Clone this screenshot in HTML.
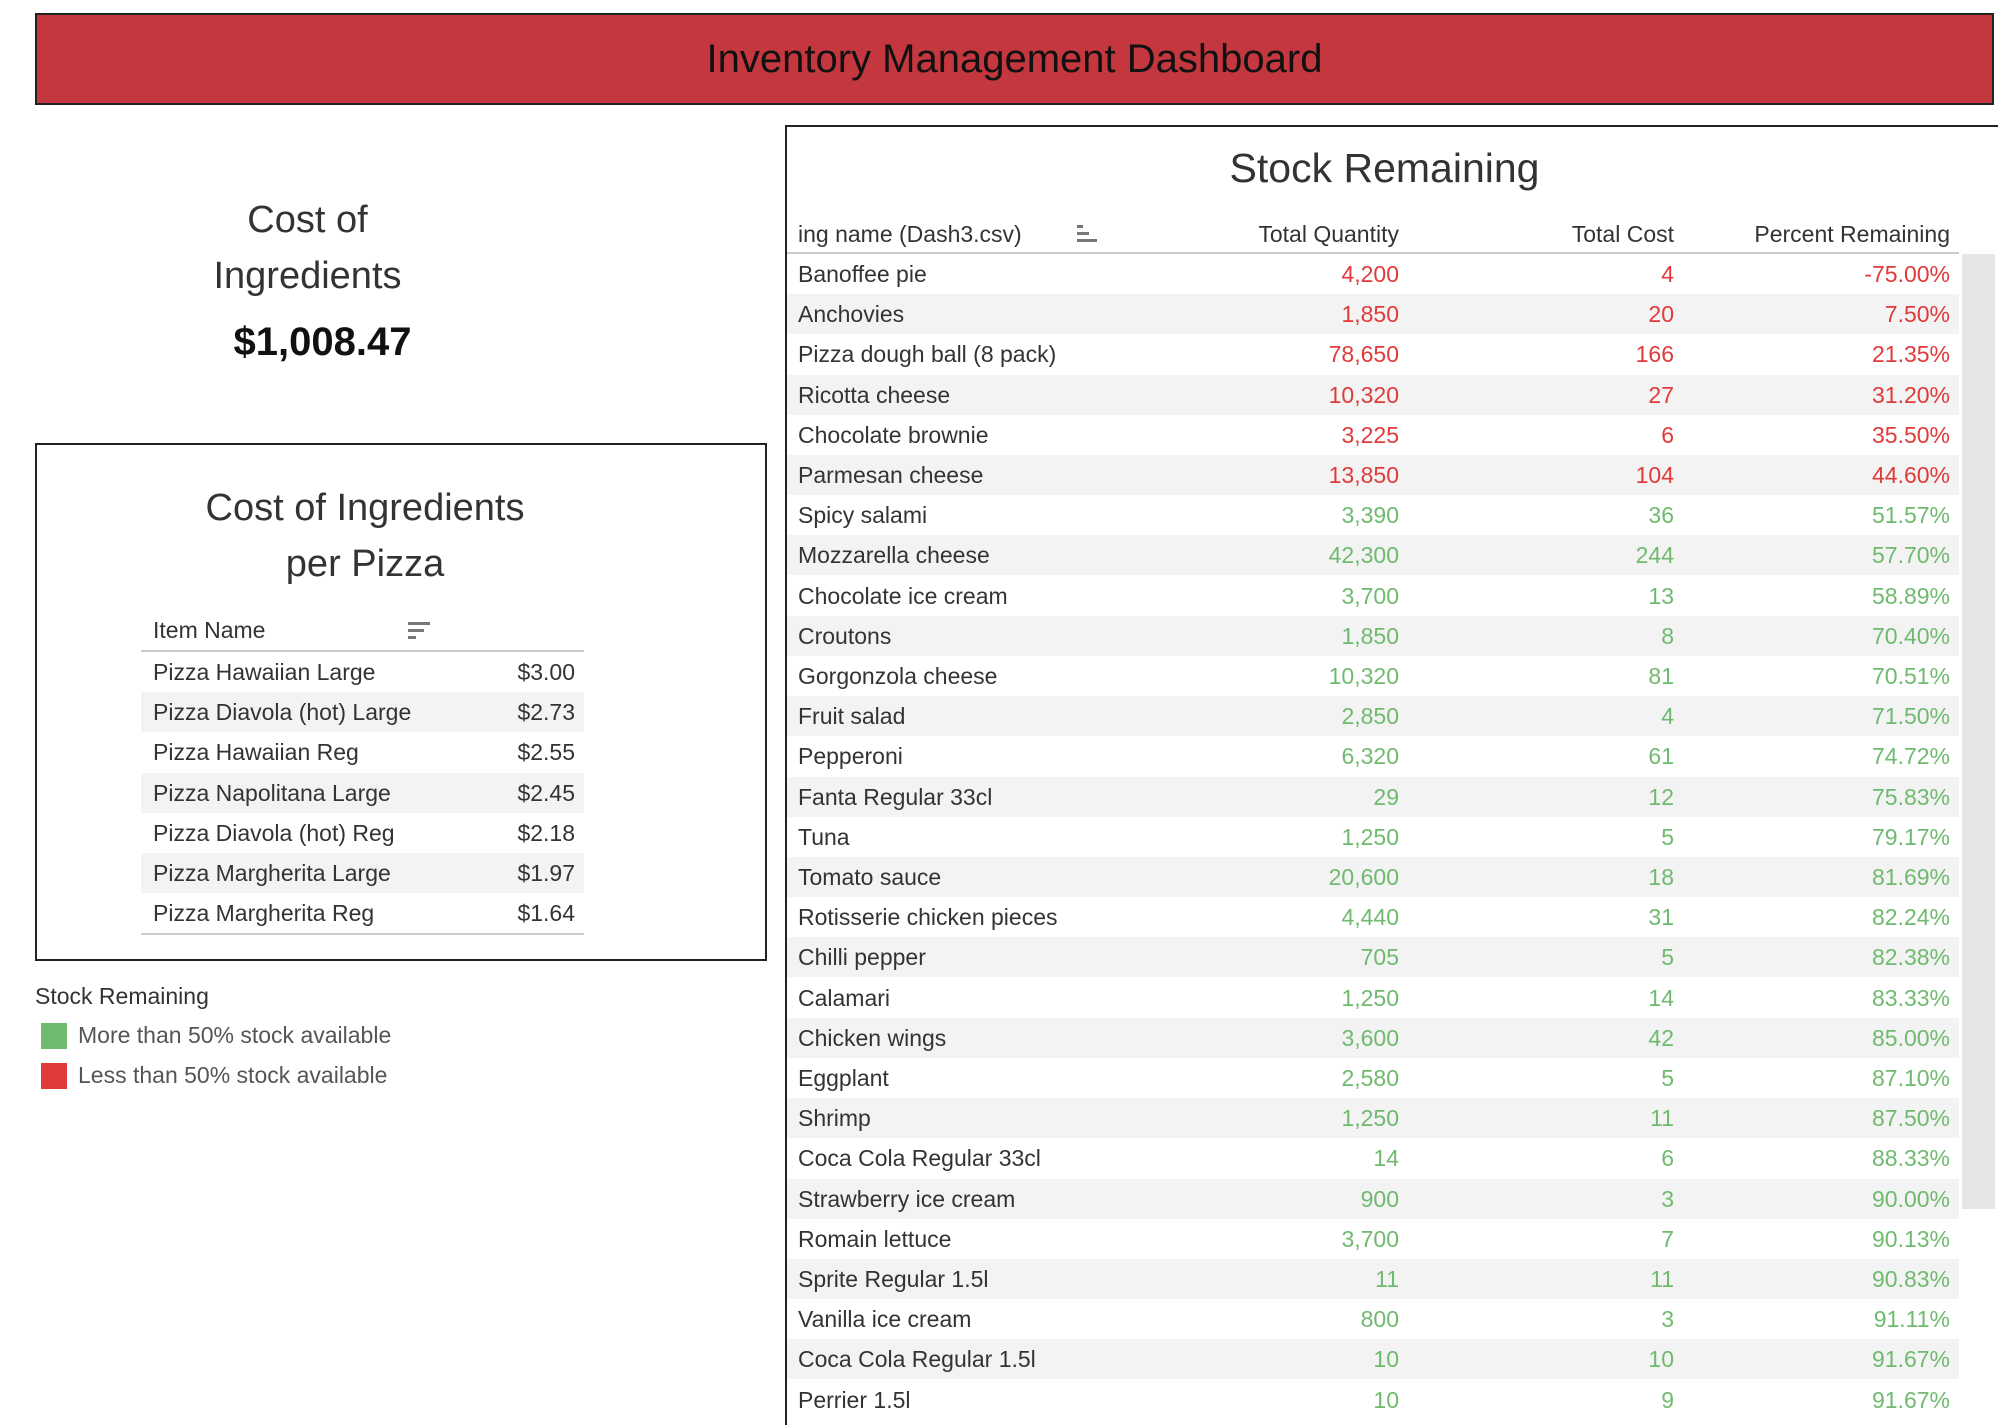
<!DOCTYPE html>
<html><head><meta charset="utf-8"><style>
body{margin:0;width:1998px;height:1408px;overflow:hidden;background:#fff;font-family:"Liberation Sans",sans-serif;color:#333;position:relative}
.abs{position:absolute}
#hdr{left:35px;top:13px;width:1959px;height:92px;background:#c4373e;border:2px solid #222;box-sizing:border-box;text-align:center;line-height:88px;font-size:40px;color:#111}
.kpi{left:100px;width:415px;text-align:center;font-size:38px;color:#333}
#pbox{left:35px;top:443px;width:732px;height:518px;border:2px solid #222;box-sizing:border-box}
#rbox{left:785px;top:125px;width:1213px;height:1300px;border:2px solid #222;border-right:none;border-bottom:none;box-sizing:border-box;overflow:hidden}
.row{position:absolute;height:40px;line-height:40px;font-size:23px}
.r{position:absolute;text-align:right}
</style></head><body>
<div id="hdr" class="abs">Inventory Management Dashboard</div>
<div class="abs kpi" style="top:192px;line-height:56px">Cost of<br>Ingredients</div>
<div class="abs kpi" style="top:320px;font-size:40px;font-weight:bold;color:#111;left:115px">$1,008.47</div>
<div id="pbox" class="abs"></div>
<div class="abs" style="left:140px;top:480px;width:450px;text-align:center;font-size:38px;line-height:56px">Cost of Ingredients<br>per Pizza</div>
<div class="abs" style="left:153px;top:617px;font-size:23px">Item Name</div>
<div class="abs" style="left:408px;top:622px;width:22px"><div style="height:3px;background:#777;width:22px;margin-bottom:4px"></div><div style="height:3px;background:#777;width:16px;margin-bottom:4px"></div><div style="height:3px;background:#777;width:8px"></div></div>
<div class="abs" style="left:141px;top:650px;width:443px;height:2px;background:#ccc"></div>
<div id="ptable" class="abs" style="left:141px;top:652px;width:443px"></div>
<div class="abs" style="left:35px;top:983px;font-size:23px">Stock Remaining</div>
<div class="abs" style="left:41px;top:1023px;width:26px;height:26px;background:#6fba6f"></div>
<div class="abs" style="left:78px;top:1022px;font-size:23px;color:#555">More than 50% stock available</div>
<div class="abs" style="left:41px;top:1063px;width:26px;height:26px;background:#e03a3a"></div>
<div class="abs" style="left:78px;top:1062px;font-size:23px;color:#555">Less than 50% stock available</div>
<div id="rbox" class="abs">
<div class="abs" style="left:0;width:1195px;top:18px;text-align:center;font-size:41px;color:#333">Stock Remaining</div>
<div class="abs" style="left:0;top:94px;width:1172px;height:30px;font-size:23px">
<div class="abs" style="left:11px;top:0">ing name (Dash3.csv)</div>
<div class="abs" style="left:290px;top:4px;width:20px"><div style="height:3px;background:#777;width:6px;margin-bottom:4px"></div><div style="height:3px;background:#777;width:12px;margin-bottom:4px"></div><div style="height:3px;background:#777;width:20px"></div></div>
<div class="r" style="right:560px;top:0">Total Quantity</div>
<div class="r" style="right:285px;top:0">Total Cost</div>
<div class="r" style="right:9px;top:0">Percent Remaining</div>
</div>
<div class="abs" style="left:0;top:125px;width:1172px;height:2px;background:#ccc"></div>
<div class="abs" style="left:1175px;top:127px;width:33px;height:955px;background:#e6e6e6"></div>
<div id="stable" class="abs" style="left:0;top:127px;width:1172px"></div>
</div>
<script>
const pizzaNames=["Pizza Hawaiian Large","Pizza Diavola (hot) Large","Pizza Hawaiian Reg","Pizza Napolitana Large","Pizza Diavola (hot) Reg","Pizza Margherita Large","Pizza Margherita Reg"];
const pizzaCosts=[3.00,2.73,2.55,2.45,2.18,1.97,1.64];
const ingNames=["Banoffee pie","Anchovies","Pizza dough ball (8 pack)","Ricotta cheese","Chocolate brownie","Parmesan cheese","Spicy salami","Mozzarella cheese","Chocolate ice cream","Croutons","Gorgonzola cheese","Fruit salad","Pepperoni","Fanta Regular 33cl","Tuna","Tomato sauce","Rotisserie chicken pieces","Chilli pepper","Calamari","Chicken wings","Eggplant","Shrimp","Coca Cola Regular 33cl","Strawberry ice cream","Romain lettuce","Sprite Regular 1.5l","Vanilla ice cream","Coca Cola Regular 1.5l","Perrier 1.5l"];
const ingQty=[4200,1850,78650,10320,3225,13850,3390,42300,3700,1850,10320,2850,6320,29,1250,20600,4440,705,1250,3600,2580,1250,14,900,3700,11,800,10,10];
const ingCost=[4,20,166,27,6,104,36,244,13,8,81,4,61,12,5,18,31,5,14,42,5,11,6,3,7,11,3,10,9];
const ingPct=[-75.00,7.50,21.35,31.20,35.50,44.60,51.57,57.70,58.89,70.40,70.51,71.50,74.72,75.83,79.17,81.69,82.24,82.38,83.33,85.00,87.10,87.50,88.33,90.00,90.13,90.83,91.11,91.67,91.67];
const RH=40.2;
const pt=document.getElementById('ptable');
pizzaNames.forEach((n,i)=>{
  const r=document.createElement('div');
  r.className='row';
  
  
  r.style.cssText=`left:0;width:443px;top:${i*RH}px;background:${i%2?'#f3f3f3':'#fff'}`;
  r.innerHTML=`<span style="position:absolute;left:12px">${n}</span><span class="r" style="right:9px">$${pizzaCosts[i].toFixed(2)}</span>`;
  pt.appendChild(r);
});
const ln=document.createElement('div');


ln.style.cssText=`position:absolute;left:0;width:443px;height:2px;background:#ccc;top:${pizzaNames.length*RH}px`;
pt.appendChild(ln);
const st=document.getElementById('stable');
ingNames.forEach((n,i)=>{
  const c=ingPct[i]<50?'#e03a3a':'#6fba6f';
  const r=document.createElement('div');
  r.className='row';
  
  
  r.style.cssText=`left:0;width:1172px;top:${i*RH}px;background:${i%2?'#f3f3f3':'#fff'}`;
  r.innerHTML=`<span style="position:absolute;left:11px;color:#333">${n}</span><span class="r" style="right:560px;color:${c}">${ingQty[i].toLocaleString('en-US')}</span><span class="r" style="right:285px;color:${c}">${ingCost[i]}</span><span class="r" style="right:9px;color:${c}">${ingPct[i].toFixed(2)}%</span>`;
  st.appendChild(r);
});
</script>
</body></html>
